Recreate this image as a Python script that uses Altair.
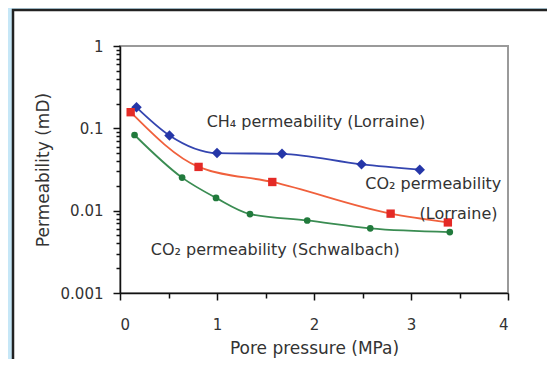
import altair as alt
import pandas as pd

# --- data ---
ch4_x = [0.17, 0.51, 1.00, 1.67, 2.49, 3.09]
ch4_y = [0.18, 0.082, 0.050, 0.049, 0.0365, 0.0315]

co2l_x = [0.11, 0.81, 1.57, 2.79, 3.38]
co2l_y = [0.157, 0.034, 0.0223, 0.0092, 0.0072]

co2s_x = [0.15, 0.64, 0.99, 1.34, 1.93, 2.58, 3.40]
co2s_y = [0.083, 0.0252, 0.0143, 0.0091, 0.0076, 0.0061, 0.0055]

x_tick_values = [0, 0.5, 1, 1.5, 2, 2.5, 3, 3.5, 4]
y_tick_values = [0.001, 0.002, 0.003, 0.004, 0.005, 0.006, 0.007, 0.008, 0.009,
                 0.01, 0.02, 0.03, 0.04, 0.05, 0.06, 0.07, 0.08, 0.09,
                 0.1, 0.2, 0.3, 0.4, 0.5, 0.6, 0.7, 0.8, 0.9, 1]

ann_text = ["CH₄ permeability (Lorraine)", "CO₂ permeability", "(Lorraine)",
            "CO₂ permeability (Schwalbach)"]
ann_x = [2.02, 3.23, 3.49, 1.60]
ann_y = [0.118, 0.0213, 0.0092, 0.00334]

W, H = 388, 247
FONT = "DejaVu Sans"
TXT = "#333333"

df_ch4 = pd.DataFrame({"p": ch4_x, "k": ch4_y})
df_co2l = pd.DataFrame({"p": co2l_x, "k": co2l_y})
df_co2s = pd.DataFrame({"p": co2s_x, "k": co2s_y})
df_ann = pd.DataFrame({"t": ann_text, "p": ann_x, "k": ann_y})
one = pd.DataFrame({"a": [0]})

decade_test = "abs(log(datum.value)/LN10 - round(log(datum.value)/LN10)) < 0.001"

xscale = alt.Scale(domain=[0, 4], nice=False)
yscale = alt.Scale(type="log", domain=[0.001, 1], nice=False)

xaxis = alt.Axis(
    title="Pore pressure (MPa)", values=x_tick_values,
    labelExpr="datum.value % 1 == 0 ? toString(datum.value) : ''",
    grid=False, zindex=1, domainColor="#111", domainWidth=1.5,
    tickColor="#111", tickWidth=1.5,
    tickSize={"condition": {"test": "datum.value % 1 == 0", "value": 7}, "value": 5},
    labelFont=FONT, labelFontSize=15, labelColor=TXT, labelPadding=17,
    labelOverlap=False,
    titleFont=FONT, titleFontSize=17, titleFontWeight="normal", titleColor=TXT,
    titlePadding=8,
)
yaxis = alt.Axis(
    title="Permeability (mD)", values=y_tick_values,
    labelExpr=decade_test + " ? toString(datum.value) : ''",
    grid=False, zindex=1, domainColor="#111", domainWidth=1.5,
    tickColor="#111", tickWidth=1.5,
    tickSize={"condition": {"test": decade_test, "value": 7}, "value": 4},
    labelFont=FONT, labelFontSize=15, labelColor=TXT, labelPadding=10,
    labelOverlap=False,
    titleFont=FONT, titleFontSize=17, titleFontWeight="normal", titleColor=TXT,
    titlePadding=8,
)

panel = alt.Chart(one).mark_rect(fill="white", stroke="#222222", strokeWidth=2.5).encode(
    x=alt.value(-107), x2=alt.value(450), y=alt.value(-36), y2=alt.value(340)
)
frame = alt.Chart(one).mark_rect(fillOpacity=0, stroke="#9a9a9a", strokeWidth=2).encode(
    x=alt.value(0), x2=alt.value(W), y=alt.value(0), y2=alt.value(H)
)


def series(df, line_color, pt_color, shape, size):
    base = alt.Chart(df).encode(
        x=alt.X("p:Q", scale=xscale, axis=xaxis),
        y=alt.Y("k:Q", scale=yscale, axis=yaxis),
    )
    line = base.mark_line(color=line_color, strokeWidth=1.8, interpolate="monotone")
    pts = base.mark_point(shape=shape, filled=True, color=pt_color, size=size, opacity=1)
    return line + pts


s_ch4 = series(df_ch4, "#3445b0", "#2536a8", "diamond", 110)
s_co2l = series(df_co2l, "#f0603c", "#e42a26", "square", 70)
s_co2s = series(df_co2s, "#3a8c52", "#217a3c", "circle", 45)

ann = alt.Chart(df_ann).mark_text(font=FONT, fontSize=16, color=TXT).encode(
    x=alt.X("p:Q", scale=xscale, axis=xaxis),
    y=alt.Y("k:Q", scale=yscale, axis=yaxis),
    text="t:N",
)

chart = alt.layer(panel, frame, s_ch4, s_co2l, s_co2s, ann).properties(
    width=W, height=H,
    autosize=alt.AutoSizeParams(type="none"),
    padding={"left": 112, "top": 38, "right": 39, "bottom": 66},
    background="#c6e7f7",
).configure_view(stroke=None)

chart.save("out.html", embed_options={"renderer": "svg", "actions": False})
